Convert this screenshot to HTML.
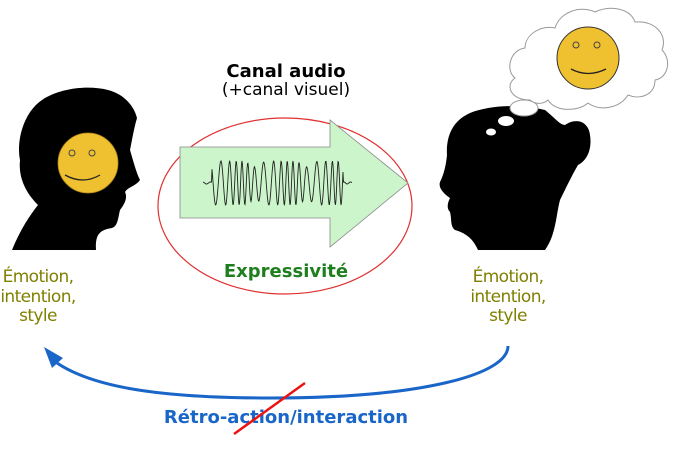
<!DOCTYPE html>
<html><head><meta charset="utf-8"><style>
html,body{margin:0;padding:0;background:#fff;width:683px;height:459px;overflow:hidden}
svg{display:block}
text{font-family:"DejaVu Sans","Liberation Sans",sans-serif}
</style></head><body>
<svg width="683" height="459" viewBox="0 0 683 459" xmlns="http://www.w3.org/2000/svg">
<path d="M12,250 C20,230 30,215 38,205 C28,195 18,180 20,160 C16,140 24,112 42,100 C60,88 88,85 108,90 C124,94 134,106 137,118 C134,128 132,140 130,150 C133,160 136,172 140,180 C136,186 128,187 125,192 C128,198 124,205 120,210 C118,218 118,226 112,228 C100,230 95,234 96,250 Z" fill="#000"/>
<circle cx="88" cy="163" r="30" fill="#efc030" stroke="#b08820" stroke-width="0.8"/>
<circle cx="72" cy="153" r="3" fill="none" stroke="#444" stroke-width="1"/>
<circle cx="92" cy="153" r="3" fill="none" stroke="#444" stroke-width="1"/>
<path d="M65,175 Q83,185 100,175" fill="none" stroke="#222" stroke-width="1.3"/>
<path d="M478,250 C472,236 462,232 455,230 C450,226 452,220 450,212 C446,208 448,202 450,198 C444,194 438,188 440,182 C444,174 446,165 447,155 C446,140 450,122 470,113 C490,105 520,104 545,110 C555,118 560,125 565,125 C575,118 588,120 590,135 C592,148 588,160 578,165 C572,175 565,190 560,200 C556,215 556,235 545,250 Z" fill="#000"/>
<ellipse cx="506" cy="121" rx="8" ry="5" fill="#fff"/>
<ellipse cx="491" cy="132" rx="5" ry="3.5" fill="#fff"/>
<g fill="#fff" stroke="#999" stroke-width="1">
<ellipse cx="524" cy="108" rx="14" ry="8"/>
<path d="M530,100 C510,100 505,85 515,78 C505,70 510,50 525,48 C525,35 540,25 555,28 C560,12 580,5 595,12 C610,5 630,8 635,22 C655,20 668,35 662,50 C672,60 668,78 655,80 C655,95 640,100 628,95 C620,108 600,112 588,103 C578,112 555,112 548,100 C542,105 535,104 530,100 Z"/>
</g>
<circle cx="588" cy="58" r="31" fill="#efc030" stroke="#333" stroke-width="1"/>
<circle cx="576" cy="45" r="3" fill="none" stroke="#444" stroke-width="1"/>
<circle cx="597" cy="45" r="3" fill="none" stroke="#444" stroke-width="1"/>
<path d="M571,69 Q588,78 606,69" fill="none" stroke="#222" stroke-width="1.3"/>
<ellipse cx="285" cy="206" rx="127" ry="88" fill="#fff" stroke="#e03030" stroke-width="1.2"/>
<path d="M180,147 L330,147 L330,120 L408,183 L330,247 L330,218 L180,218 Z" fill="#ccf5cc" stroke="#888" stroke-width="0.8"/>
<polyline id="wave" fill="none" stroke="#222" stroke-width="0.9" points=""/>
<text x="286" y="77" font-size="18" font-weight="bold" text-anchor="middle" fill="#000">Canal audio</text>
<text x="286" y="95" font-size="17" text-anchor="middle" fill="#000">(+canal visuel)</text>
<text x="286" y="277" font-size="18" font-weight="bold" text-anchor="middle" fill="#1f7f1f">Expressivité</text>
<g font-size="17" fill="#7f7f00" text-anchor="middle" letter-spacing="-0.6">
<text x="38" y="282">Émotion,</text><text x="38" y="302">intention,</text><text x="38" y="321">style</text>
<text x="508" y="282">Émotion,</text><text x="508" y="302">intention,</text><text x="508" y="321">style</text>
</g>
<path d="M508,346 C508,375 420,398 270,398 C150,398 90,385 57,363" fill="none" stroke="#1a66c8" stroke-width="3"/>
<path d="M44,347 L63,358 L52,368 Z" fill="#1a66c8"/>
<text x="286" y="423" font-size="18" font-weight="bold" text-anchor="middle" fill="#1a66c8">Rétro-action/interaction</text>
<line x1="234" y1="434" x2="305" y2="383" stroke="#ee1111" stroke-width="2.5"/>
</svg>
<script>
var p=[];for(var x=203;x<=352;x+=0.5){var t=(x-203)/149;var a=(x<212||x>343)?1:Math.min(22,12+10*Math.abs(Math.sin(t*9))+4);p.push(x.toFixed(1)+","+(183+a*Math.sin(x*0.85+Math.sin(x*0.13)*2)).toFixed(1));}
document.getElementById("wave").setAttribute("points",p.join(" "));
</script>
</body></html>
